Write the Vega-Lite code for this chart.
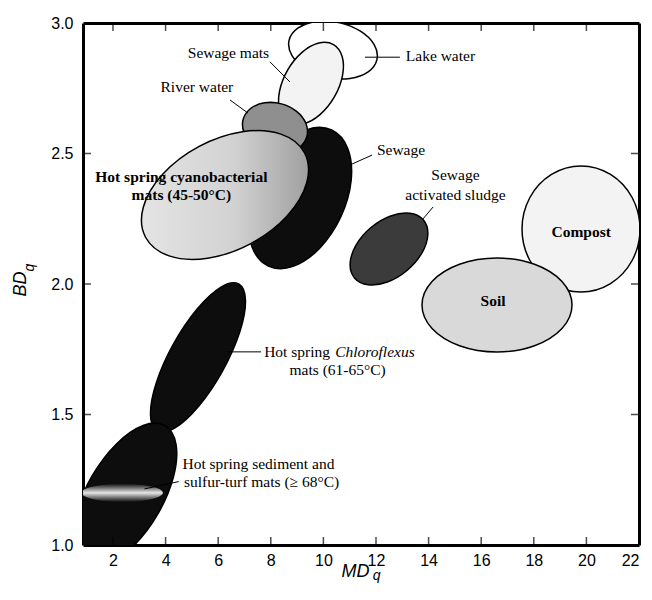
{
  "$schema": "https://vega.github.io/schema/vega-lite/v6.json",
  "width": 556,
  "height": 522,
  "autosize": "none",
  "padding": {"left": 83, "top": 23, "right": 13, "bottom": 55},
  "background": "white",
  "config": {
    "view": {"stroke": null},
    "axis": {
      "domainColor": "black", "domainWidth": 3, "ticks": false,
      "grid": false, "zindex": 1,
      "labelFont": "Liberation Sans", "labelFontSize": 16, "labelColor": "black",
      "titleFont": "Liberation Sans", "titleFontSize": 18, "titleFontStyle": "italic", "titleFontWeight": "normal", "titleColor": "black"
    }
  },
  "datasets": {
    "ellipses": [
      {"id": "lake", "i": 0, "x": 12.038, "y": 2.8607}, {"id": "lake", "i": 1, "x": 11.703, "y": 2.8130}, {"id": "lake", "i": 2, "x": 11.010, "y": 2.7878}, {"id": "lake", "i": 3, "x": 10.144, "y": 2.7917},
      {"id": "lake", "i": 4, "x": 9.337, "y": 2.8238}, {"id": "lake", "i": 5, "x": 8.806, "y": 2.8752}, {"id": "lake", "i": 6, "x": 8.692, "y": 2.9325}, {"id": "lake", "i": 7, "x": 9.027, "y": 2.9802},
      {"id": "lake", "i": 8, "x": 9.720, "y": 3.0054}, {"id": "lake", "i": 9, "x": 10.586, "y": 3.0015}, {"id": "lake", "i": 10, "x": 11.393, "y": 2.9694}, {"id": "lake", "i": 11, "x": 11.925, "y": 2.9180},

      {"id": "sewage_mats", "i": 0, "x": 10.385, "y": 2.9175}, {"id": "sewage_mats", "i": 1, "x": 10.714, "y": 2.8716}, {"id": "sewage_mats", "i": 2, "x": 10.727, "y": 2.7981}, {"id": "sewage_mats", "i": 3, "x": 10.418, "y": 2.7165},
      {"id": "sewage_mats", "i": 4, "x": 9.871, "y": 2.6487}, {"id": "sewage_mats", "i": 5, "x": 9.233, "y": 2.6130}, {"id": "sewage_mats", "i": 6, "x": 8.674, "y": 2.6189}, {"id": "sewage_mats", "i": 7, "x": 8.344, "y": 2.6648},
      {"id": "sewage_mats", "i": 8, "x": 8.331, "y": 2.7383}, {"id": "sewage_mats", "i": 9, "x": 8.640, "y": 2.8199}, {"id": "sewage_mats", "i": 10, "x": 9.187, "y": 2.8877}, {"id": "sewage_mats", "i": 11, "x": 9.825, "y": 2.9234},

      {"id": "sewage", "i": 0, "x": 10.315, "y": 2.5899}, {"id": "sewage", "i": 1, "x": 10.929, "y": 2.5185}, {"id": "sewage", "i": 2, "x": 11.056, "y": 2.3966}, {"id": "sewage", "i": 3, "x": 10.661, "y": 2.2566},
      {"id": "sewage", "i": 4, "x": 9.850, "y": 2.1362}, {"id": "sewage", "i": 5, "x": 8.842, "y": 2.0675}, {"id": "sewage", "i": 6, "x": 7.905, "y": 2.0691}, {"id": "sewage", "i": 7, "x": 7.291, "y": 2.1405},
      {"id": "sewage", "i": 8, "x": 7.165, "y": 2.2624}, {"id": "sewage", "i": 9, "x": 7.559, "y": 2.4024}, {"id": "sewage", "i": 10, "x": 8.370, "y": 2.5228}, {"id": "sewage", "i": 11, "x": 9.379, "y": 2.5915},

      {"id": "river", "i": 0, "x": 9.372, "y": 2.5649}, {"id": "river", "i": 1, "x": 9.087, "y": 2.5230}, {"id": "river", "i": 2, "x": 8.553, "y": 2.5012}, {"id": "river", "i": 3, "x": 7.914, "y": 2.5052},
      {"id": "river", "i": 4, "x": 7.341, "y": 2.5340}, {"id": "river", "i": 5, "x": 6.987, "y": 2.5798}, {"id": "river", "i": 6, "x": 6.948, "y": 2.6305}, {"id": "river", "i": 7, "x": 7.233, "y": 2.6724},
      {"id": "river", "i": 8, "x": 7.767, "y": 2.6942}, {"id": "river", "i": 9, "x": 8.406, "y": 2.6902}, {"id": "river", "i": 10, "x": 8.980, "y": 2.6614}, {"id": "river", "i": 11, "x": 9.333, "y": 2.6156},

      {"id": "sludge", "i": 0, "x": 13.805, "y": 2.2449}, {"id": "sludge", "i": 1, "x": 13.971, "y": 2.1890}, {"id": "sludge", "i": 2, "x": 13.742, "y": 2.1183}, {"id": "sludge", "i": 3, "x": 13.178, "y": 2.0519},
      {"id": "sludge", "i": 4, "x": 12.431, "y": 2.0075}, {"id": "sludge", "i": 5, "x": 11.701, "y": 1.9970}, {"id": "sludge", "i": 6, "x": 11.183, "y": 2.0233}, {"id": "sludge", "i": 7, "x": 11.017, "y": 2.0792},
      {"id": "sludge", "i": 8, "x": 11.246, "y": 2.1499}, {"id": "sludge", "i": 9, "x": 11.810, "y": 2.2163}, {"id": "sludge", "i": 10, "x": 12.557, "y": 2.2607}, {"id": "sludge", "i": 11, "x": 13.287, "y": 2.2712},

      {"id": "compost", "i": 0, "x": 22.038, "y": 2.2107}, {"id": "compost", "i": 1, "x": 21.738, "y": 2.0900}, {"id": "compost", "i": 2, "x": 20.917, "y": 2.0016}, {"id": "compost", "i": 3, "x": 19.795, "y": 1.9693},
      {"id": "compost", "i": 4, "x": 18.673, "y": 2.0016}, {"id": "compost", "i": 5, "x": 17.852, "y": 2.0900}, {"id": "compost", "i": 6, "x": 17.552, "y": 2.2107}, {"id": "compost", "i": 7, "x": 17.852, "y": 2.3314},
      {"id": "compost", "i": 8, "x": 18.673, "y": 2.4198}, {"id": "compost", "i": 9, "x": 19.795, "y": 2.4521}, {"id": "compost", "i": 10, "x": 20.917, "y": 2.4198}, {"id": "compost", "i": 11, "x": 21.738, "y": 2.3314},

      {"id": "soil", "i": 0, "x": 19.453, "y": 1.9195}, {"id": "soil", "i": 1, "x": 19.071, "y": 1.8295}, {"id": "soil", "i": 2, "x": 18.027, "y": 1.7635}, {"id": "soil", "i": 3, "x": 16.601, "y": 1.7394},
      {"id": "soil", "i": 4, "x": 15.175, "y": 1.7635}, {"id": "soil", "i": 5, "x": 14.131, "y": 1.8295}, {"id": "soil", "i": 6, "x": 13.749, "y": 1.9195}, {"id": "soil", "i": 7, "x": 14.131, "y": 2.0095},
      {"id": "soil", "i": 8, "x": 15.175, "y": 2.0755}, {"id": "soil", "i": 9, "x": 16.601, "y": 2.0996}, {"id": "soil", "i": 10, "x": 18.027, "y": 2.0755}, {"id": "soil", "i": 11, "x": 19.071, "y": 2.0095},

      {"id": "chloro", "i": 0, "x": 6.780, "y": 1.9999}, {"id": "chloro", "i": 1, "x": 7.039, "y": 1.9362}, {"id": "chloro", "i": 2, "x": 6.813, "y": 1.8142}, {"id": "chloro", "i": 3, "x": 6.163, "y": 1.6664},
      {"id": "chloro", "i": 4, "x": 5.264, "y": 1.5326}, {"id": "chloro", "i": 5, "x": 4.357, "y": 1.4486}, {"id": "chloro", "i": 6, "x": 3.684, "y": 1.4369}, {"id": "chloro", "i": 7, "x": 3.425, "y": 1.5006},
      {"id": "chloro", "i": 8, "x": 3.651, "y": 1.6226}, {"id": "chloro", "i": 9, "x": 4.301, "y": 1.7704}, {"id": "chloro", "i": 10, "x": 5.200, "y": 1.9042}, {"id": "chloro", "i": 11, "x": 6.107, "y": 1.9882},

      {"id": "sediment", "i": 0, "x": 3.977, "y": 1.4570}, {"id": "sediment", "i": 1, "x": 4.399, "y": 1.3850}, {"id": "sediment", "i": 2, "x": 4.300, "y": 1.2613}, {"id": "sediment", "i": 3, "x": 3.707, "y": 1.1188},
      {"id": "sediment", "i": 4, "x": 2.779, "y": 0.9959}, {"id": "sediment", "i": 5, "x": 1.765, "y": 0.9254}, {"id": "sediment", "i": 6, "x": 0.935, "y": 0.9262}, {"id": "sediment", "i": 7, "x": 0.513, "y": 0.9982},
      {"id": "sediment", "i": 8, "x": 0.612, "y": 1.1219}, {"id": "sediment", "i": 9, "x": 1.205, "y": 1.2644}, {"id": "sediment", "i": 10, "x": 2.133, "y": 1.3873}, {"id": "sediment", "i": 11, "x": 3.147, "y": 1.4578}
    ],
    "cyano": [
      {"i": 0, "x": 9.280, "y": 2.5029}, {"i": 1, "x": 9.366, "y": 2.3881}, {"i": 2, "x": 8.620, "y": 2.2608}, {"i": 3, "x": 7.241, "y": 2.1549},
      {"i": 4, "x": 5.599, "y": 2.0988}, {"i": 5, "x": 4.134, "y": 2.1077}, {"i": 6, "x": 3.238, "y": 2.1791}, {"i": 7, "x": 3.152, "y": 2.2939},
      {"i": 8, "x": 3.898, "y": 2.4212}, {"i": 9, "x": 5.277, "y": 2.5271}, {"i": 10, "x": 6.920, "y": 2.5832}, {"i": 11, "x": 8.385, "y": 2.5743}
    ],
    "band": [
      {"i": 0, "x": 3.90, "y": 1.200}, {"i": 1, "x": 3.692, "y": 1.1825}, {"i": 2, "x": 3.125, "y": 1.1697}, {"i": 3, "x": 2.35, "y": 1.165},
      {"i": 4, "x": 1.575, "y": 1.1697}, {"i": 5, "x": 1.008, "y": 1.1825}, {"i": 6, "x": 0.80, "y": 1.200}, {"i": 7, "x": 1.008, "y": 1.2175},
      {"i": 8, "x": 1.575, "y": 1.2303}, {"i": 9, "x": 2.35, "y": 1.235}, {"i": 10, "x": 3.125, "y": 1.2303}, {"i": 11, "x": 3.692, "y": 1.2175}
    ],
    "xticks": [
      {"x": 2, "y": 1}, {"x": 4, "y": 1}, {"x": 6, "y": 1}, {"x": 8, "y": 1}, {"x": 10, "y": 1}, {"x": 12, "y": 1}, {"x": 14, "y": 1}, {"x": 16, "y": 1}, {"x": 18, "y": 1}, {"x": 20, "y": 1},
      {"x": 2, "y": 3}, {"x": 4, "y": 3}, {"x": 6, "y": 3}, {"x": 8, "y": 3}, {"x": 10, "y": 3}, {"x": 12, "y": 3}, {"x": 14, "y": 3}, {"x": 16, "y": 3}, {"x": 18, "y": 3}, {"x": 20, "y": 3}
    ],
    "yticks": [
      {"x": 0.86, "y": 1.5}, {"x": 0.86, "y": 2}, {"x": 0.86, "y": 2.5},
      {"x": 22, "y": 1.5}, {"x": 22, "y": 2}, {"x": 22, "y": 2.5}
    ],
    "leaders": [
      {"x": 7.97, "y": 2.851, "x2": 8.73, "y2": 2.774},
      {"x": 6.45, "y": 2.705, "x2": 7.13, "y2": 2.655},
      {"x": 11.58, "y": 2.869, "x2": 12.91, "y2": 2.869},
      {"x": 11.01, "y": 2.456, "x2": 11.85, "y2": 2.494},
      {"x": 13.75, "y": 2.245, "x2": 14.17, "y2": 2.295},
      {"x": 6.33, "y": 1.74, "x2": 7.63, "y2": 1.74},
      {"x": 3.2, "y": 1.215, "x2": 4.5, "y2": 1.243}
    ],
    "labels": [
      {"t": "Sewage mats", "x": 6.39, "y": 2.885},
      {"t": "River water", "x": 5.19, "y": 2.755},
      {"t": "Lake water", "x": 14.45, "y": 2.875},
      {"t": "Sewage", "x": 12.95, "y": 2.513},
      {"t": "Sewage", "x": 15.02, "y": 2.418},
      {"t": "activated sludge", "x": 15.02, "y": 2.341},
      {"t": "Hot spring", "x": 9.0, "y": 1.74},
      {"t": "mats (61-65°C)", "x": 10.54, "y": 1.671},
      {"t": "Hot spring sediment and", "x": 7.53, "y": 1.31},
      {"t": "sulfur-turf mats (≥ 68°C)", "x": 7.65, "y": 1.241}
    ],
    "italic": [
      {"t": "Chloroflexus", "x": 11.96, "y": 1.74}
    ],
    "bold": [
      {"t": "Hot spring cyanobacterial", "x": 4.6, "y": 2.411},
      {"t": "mats (45-50°C)", "x": 4.6, "y": 2.341},
      {"t": "Compost", "x": 19.8, "y": 2.199},
      {"t": "Soil", "x": 16.45, "y": 1.935}
    ],
    "subs": [
      {"t": "q", "x": 12.02, "y": 0.866, "a": 0},
      {"t": "q", "x": -1.004, "y": 2.063, "a": 270}
    ]
  },
  "layer": [
    {
      "data": {"name": "ellipses"},
      "mark": {"type": "line", "interpolate": "cardinal-closed", "filled": true, "stroke": "black", "strokeWidth": 1.5, "clip": true},
      "encoding": {
        "x": {"field": "x", "type": "quantitative", "scale": {"domain": [0.86, 22], "nice": false, "zero": false},
              "axis": {"orient": "bottom", "values": [2, 4, 6, 8, 10, 12, 14, 16, 18, 20, 22], "labelPadding": 7,
                       "title": "MD", "titleX": 272, "titleY": 31, "titleBaseline": "alphabetic"}},
        "y": {"field": "y", "type": "quantitative", "scale": {"domain": [1, 3], "nice": false, "zero": false},
              "axis": {"orient": "left", "values": [1, 1.5, 2, 2.5, 3], "format": ".1f", "labelPadding": 10,
                       "title": "BD", "titleX": -58, "titleY": 260.5, "titleBaseline": "alphabetic", "titleAngle": 270}},
        "color": {"field": "id", "type": "nominal",
                  "scale": {"domain": ["lake", "sewage_mats", "sewage", "river", "sludge", "compost", "soil", "chloro", "sediment"],
                            "range": ["#ffffff", "#f3f3f3", "#0d0d0d", "#8f8f8f", "#3b3b3b", "#f3f3f3", "#d9d9d9", "#0d0d0d", "#0d0d0d"]},
                  "legend": null},
        "detail": {"field": "id"},
        "order": {"field": "i", "type": "quantitative"}
      }
    },
    {
      "data": {"name": "cyano"},
      "mark": {"type": "line", "interpolate": "cardinal-closed", "filled": true, "stroke": "black", "strokeWidth": 1.5, "clip": true,
               "color": {"gradient": "linear", "x1": 0, "y1": 0.5, "x2": 1, "y2": 0.5,
                         "stops": [{"offset": 0, "color": "#e4e4e4"}, {"offset": 0.55, "color": "#d2d2d2"}, {"offset": 1, "color": "#a0a0a0"}]}},
      "encoding": {
        "x": {"field": "x", "type": "quantitative", "scale": {"domain": [0.86, 22], "nice": false, "zero": false}, "axis": null},
        "y": {"field": "y", "type": "quantitative", "scale": {"domain": [1, 3], "nice": false, "zero": false}, "axis": null},
        "order": {"field": "i", "type": "quantitative"}
      }
    },
    {
      "data": {"name": "band"},
      "mark": {"type": "line", "interpolate": "cardinal-closed", "filled": true, "strokeWidth": 0, "clip": true,
               "color": {"gradient": "linear", "x1": 0.5, "y1": 0, "x2": 0.5, "y2": 1,
                         "stops": [{"offset": 0, "color": "#0d0d0d"}, {"offset": 0.5, "color": "#e6e6e6"}, {"offset": 1, "color": "#0d0d0d"}]}},
      "encoding": {
        "x": {"field": "x", "type": "quantitative", "scale": {"domain": [0.86, 22], "nice": false, "zero": false},
              "axis": {"orient": "top", "labels": false, "title": null}},
        "y": {"field": "y", "type": "quantitative", "scale": {"domain": [1, 3], "nice": false, "zero": false},
              "axis": {"orient": "right", "labels": false, "title": null}},
        "order": {"field": "i", "type": "quantitative"}
      }
    },
    {
      "data": {"name": "xticks"},
      "mark": {"type": "tick", "orient": "vertical", "color": "black", "size": 16, "thickness": 1.5, "clip": true},
      "encoding": {
        "x": {"field": "x", "type": "quantitative", "scale": {"domain": [0.86, 22], "nice": false, "zero": false}, "axis": null},
        "y": {"field": "y", "type": "quantitative", "scale": {"domain": [1, 3], "nice": false, "zero": false}, "axis": null}
      }
    },
    {
      "data": {"name": "yticks"},
      "mark": {"type": "tick", "orient": "horizontal", "color": "black", "size": 16, "thickness": 1.5, "clip": true},
      "encoding": {
        "x": {"field": "x", "type": "quantitative", "scale": {"domain": [0.86, 22], "nice": false, "zero": false}, "axis": null},
        "y": {"field": "y", "type": "quantitative", "scale": {"domain": [1, 3], "nice": false, "zero": false}, "axis": null}
      }
    },
    {
      "data": {"name": "leaders"},
      "mark": {"type": "rule", "color": "black", "strokeWidth": 1},
      "encoding": {
        "x": {"field": "x", "type": "quantitative", "scale": {"domain": [0.86, 22], "nice": false, "zero": false}, "axis": null},
        "y": {"field": "y", "type": "quantitative", "scale": {"domain": [1, 3], "nice": false, "zero": false}, "axis": null},
        "x2": {"field": "x2"},
        "y2": {"field": "y2"}
      }
    },
    {
      "data": {"name": "labels"},
      "mark": {"type": "text", "font": "Liberation Serif", "fontSize": 15.5, "color": "black", "align": "center", "baseline": "middle"},
      "encoding": {
        "x": {"field": "x", "type": "quantitative", "scale": {"domain": [0.86, 22], "nice": false, "zero": false}, "axis": null},
        "y": {"field": "y", "type": "quantitative", "scale": {"domain": [1, 3], "nice": false, "zero": false}, "axis": null},
        "text": {"field": "t"}
      }
    },
    {
      "data": {"name": "italic"},
      "mark": {"type": "text", "font": "Liberation Serif", "fontSize": 15.5, "fontStyle": "italic", "color": "black", "align": "center", "baseline": "middle"},
      "encoding": {
        "x": {"field": "x", "type": "quantitative", "scale": {"domain": [0.86, 22], "nice": false, "zero": false}, "axis": null},
        "y": {"field": "y", "type": "quantitative", "scale": {"domain": [1, 3], "nice": false, "zero": false}, "axis": null},
        "text": {"field": "t"}
      }
    },
    {
      "data": {"name": "bold"},
      "mark": {"type": "text", "font": "Liberation Serif", "fontSize": 15.5, "fontWeight": "bold", "color": "black", "align": "center", "baseline": "middle"},
      "encoding": {
        "x": {"field": "x", "type": "quantitative", "scale": {"domain": [0.86, 22], "nice": false, "zero": false}, "axis": null},
        "y": {"field": "y", "type": "quantitative", "scale": {"domain": [1, 3], "nice": false, "zero": false}, "axis": null},
        "text": {"field": "t"}
      }
    },
    {
      "data": {"name": "subs"},
      "mark": {"type": "text", "font": "Liberation Sans", "fontSize": 14, "fontStyle": "italic", "color": "black", "align": "center", "baseline": "alphabetic"},
      "encoding": {
        "x": {"field": "x", "type": "quantitative", "scale": {"domain": [0.86, 22], "nice": false, "zero": false}, "axis": null},
        "y": {"field": "y", "type": "quantitative", "scale": {"domain": [1, 3], "nice": false, "zero": false}, "axis": null},
        "text": {"field": "t"},
        "angle": {"field": "a", "type": "quantitative", "scale": null}
      }
    }
  ],
  "resolve": {"axis": {"x": "independent", "y": "independent"}}
}
